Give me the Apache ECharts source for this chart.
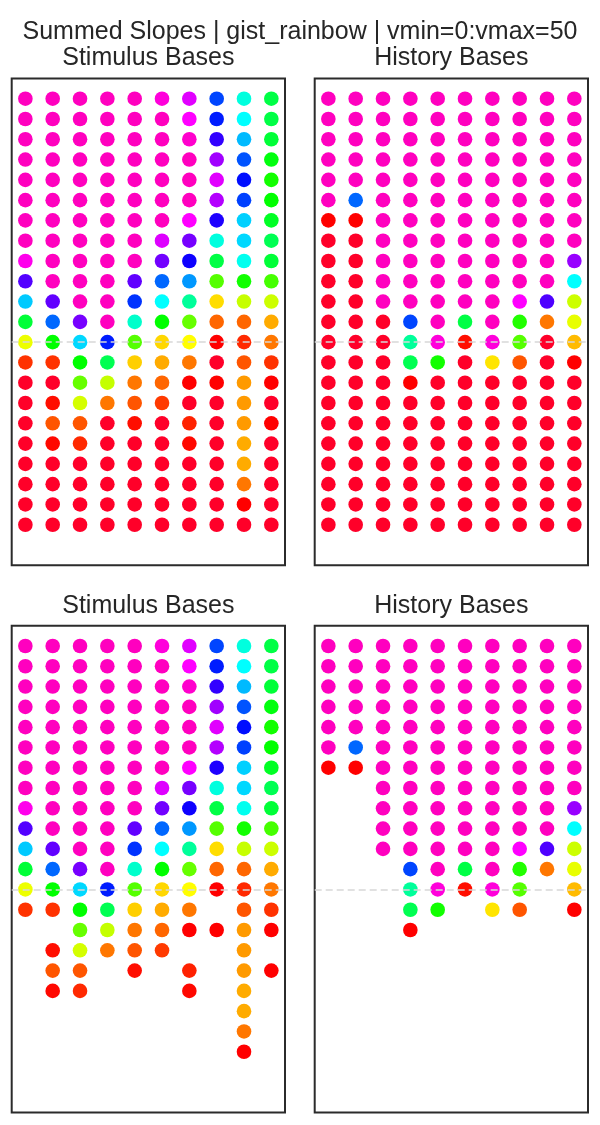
<!DOCTYPE html>
<html>
<head>
<meta charset="utf-8">
<script src="https://cdn.jsdelivr.net/npm/echarts@6/dist/echarts.min.js"></script>
<style>
  html, body { margin: 0; padding: 0; background: #ffffff; }
  #chart { width: 600px; height: 1125px; }
</style>
</head>
<body>
<div id="chart"></div>
<script>
// ---- data (summed slopes, one row per base, one column per unit) ----
const mainTitle = 'Summed Slopes | gist_rainbow | vmin=0:vmax=50';
const panelTitles = ['Stimulus Bases', 'History Bases', 'Stimulus Bases', 'History Bases'];
const vmin = 0;
const vmax = 50;
const thresholdRow = 12;       // dashed reference row
const minShown = 1;            // bottom panels hide slopes below this

const stimulusValues = [
  [50, 50, 50, 50, 50, 49, 46.6, 36, 28.1, 22.5],
  [50, 50, 50, 50, 50, 50, 47.7, 37.5, 29.3, 22.5],
  [50, 50, 50, 50, 50, 50, 49.5, 40.3, 31.8, 22],
  [50, 50, 50, 50, 50, 50, 50, 44.3, 35.5, 20.5],
  [50, 50, 50, 50, 50, 50, 50, 46.6, 38, 19.4],
  [50, 50, 50, 50, 50, 50, 50, 45, 36.2, 20],
  [50, 50, 50, 50, 50, 50, 47.7, 39.6, 31, 21.3],
  [50, 50, 50, 50, 50, 46.5, 42.8, 28.1, 30.7, 23],
  [48.4, 50, 50, 50, 50, 42.6, 39, 22.5, 28.7, 22],
  [41.5, 50, 50, 50, 42, 34.8, 33, 16.9, 19.4, 17.5],
  [31.2, 42, 50, 50, 36.7, 29.3, 25.6, 9.5, 12.8, 12.6],
  [22, 34.8, 42.8, 50, 27.4, 20, 16.3, 5.2, 5.2, 7.7],
  [11.4, 20, 30.7, 37.5, 16.9, 9.3, 10.7, 1.5, 3, 5.8],
  [3.3, 3.3, 20, 23, 9, 7.7, 5.8, 0, 4.6, 3.3],
  [0, 0, 16.3, 12.9, 5.8, 5.2, 1.5, 1.5, 7.1, 1.5],
  [0, 2, 12.3, 5.8, 4.6, 3.6, 0, 0, 7.1, 0],
  [0, 4.6, 4.6, 0, 2, 0, 2.7, 0, 7.1, 1.5],
  [0, 1.8, 3, 0, 0, 0, 1.8, 0, 7.7, 0],
  [0, 0, 0, 0, 0, 0, 0, 0, 7.7, 0],
  [0, 0, 0, 0, 0, 0, 0, 0, 5.8, 0],
  [0, 0, 0, 0, 0, 0, 0, 0, 1.5, 0],
  [0, 0, 0, 0, 0, 0, 0, 0, 0, 0]
];

const historyValues = [
  [50, 50, 50, 50, 50, 50, 50, 50, 50, 50],
  [50, 50, 50, 50, 50, 50, 50, 50, 50, 50],
  [50, 50, 50, 50, 50, 50, 50, 50, 50, 50],
  [50, 50, 50, 50, 50, 50, 50, 50, 50, 50],
  [50, 50, 50, 50, 50, 50, 50, 50, 50, 50],
  [50, 34.8, 50, 50, 50, 50, 50, 50, 50, 50],
  [1.5, 1.5, 50, 50, 50, 50, 50, 50, 50, 50],
  [0, 0, 50, 50, 50, 50, 50, 50, 50, 50],
  [0, 0, 50, 50, 50, 50, 50, 50, 50, 44],
  [0, 0, 50, 50, 50, 50, 50, 50, 50, 29.3],
  [0, 0, 50, 50, 50, 50, 50, 47.7, 41.3, 12.6],
  [0, 0, 0, 36, 50, 22.5, 50, 18.8, 5.8, 11.6],
  [0, 0, 0, 25.6, 49, 2, 49, 16.9, 0, 8.3],
  [0, 0, 0, 23, 19.4, 0, 9.8, 4.6, 0, 1.5],
  [0, 0, 0, 1.5, 0, 0, 0, 0, 0, 0],
  [0, 0, 0, 0, 0, 0, 0, 0, 0, 0],
  [0, 0, 0, 0, 0, 0, 0, 0, 0, 0],
  [0, 0, 0, 0, 0, 0, 0, 0, 0, 0],
  [0, 0, 0, 0, 0, 0, 0, 0, 0, 0],
  [0, 0, 0, 0, 0, 0, 0, 0, 0, 0],
  [0, 0, 0, 0, 0, 0, 0, 0, 0, 0],
  [0, 0, 0, 0, 0, 0, 0, 0, 0, 0]
];

// ---- gist_rainbow colormap ----
const cmapStops = [
  [0.000, [1.00, 0.00, 0.16]],
  [0.030, [1.00, 0.00, 0.00]],
  [0.215, [1.00, 1.00, 0.00]],
  [0.400, [0.00, 1.00, 0.00]],
  [0.586, [0.00, 1.00, 1.00]],
  [0.770, [0.00, 0.00, 1.00]],
  [0.954, [1.00, 0.00, 1.00]],
  [1.000, [1.00, 0.00, 0.75]]
];
function cmap(v) {
  let t = (v - vmin) / (vmax - vmin);
  t = Math.max(0, Math.min(1, t));
  for (let i = 1; i < cmapStops.length; i++) {
    const a = cmapStops[i - 1], b = cmapStops[i];
    if (t <= b[0]) {
      const f = (t - a[0]) / (b[0] - a[0]);
      const c = a[1].map((x, k) => Math.round(255 * (x + (b[1][k] - x) * f)));
      return 'rgb(' + c.join(',') + ')';
    }
  }
  return 'rgb(255,0,191)';
}

function toPoints(values, filter) {
  const pts = [];
  values.forEach((row, r) => {
    row.forEach((v, c) => {
      if (!filter || v >= minShown) pts.push([c, r, v]);
    });
  });
  return pts;
}

const panels = [
  { values: stimulusValues, filter: false },
  { values: historyValues, filter: false },
  { values: stimulusValues, filter: true },
  { values: historyValues, filter: true }
];

// ---- layout ----
const gridW = 273.3, gridH = 486.9;
const gridLefts = [11.7, 314.7, 11.7, 314.7];
const gridTops = [78.4, 78.4, 625.7, 625.7];
const textColor = '#262626';
const fontFamily = "'Liberation Sans', Arial, sans-serif";
const fontSize = 25;

const grids = [], xAxes = [], yAxes = [], series = [], graphics = [];
panels.forEach((p, i) => {
  grids.push({
    left: gridLefts[i], top: gridTops[i], width: gridW, height: gridH,
    show: true, borderColor: '#2b2b2b', borderWidth: 2, backgroundColor: '#ffffff'
  });
  xAxes.push({
    gridIndex: i, type: 'value', min: -0.5, max: 9.5,
    axisLine: { show: false }, axisTick: { show: false }, axisLabel: { show: false }, splitLine: { show: false }
  });
  yAxes.push({
    gridIndex: i, type: 'value', min: -1, max: 23, inverse: true,
    axisLine: { show: false }, axisTick: { show: false }, axisLabel: { show: false }, splitLine: { show: false }
  });
  series.push({
    type: 'scatter', xAxisIndex: i, yAxisIndex: i,
    symbol: 'circle', symbolSize: 14.6,
    data: toPoints(p.values, p.filter),
    itemStyle: { color: (params) => cmap(params.value[2]), opacity: 1 },
    silent: true, z: 2
  });
  series.push({
    type: 'line', xAxisIndex: i, yAxisIndex: i, data: [], z: 5, silent: true,
    markLine: {
      silent: true, symbol: ['none', 'none'], label: { show: false },
      lineStyle: { type: [7, 4], color: 'rgba(215,215,215,0.75)', width: 2 },
      data: [{ yAxis: thresholdRow }]
    }
  });
  graphics.push({
    type: 'text', x: gridLefts[i] + gridW / 2, y: gridTops[i] - 20,
    style: {
      text: panelTitles[i], fill: textColor, font: fontSize + 'px ' + fontFamily,
      textAlign: 'center', textVerticalAlign: 'middle'
    }
  });
});
graphics.push({
  type: 'text', x: 300, y: 32.5,
  style: {
    text: mainTitle, fill: textColor, font: fontSize + 'px ' + fontFamily,
    textAlign: 'center', textVerticalAlign: 'middle'
  }
});

const chart = echarts.init(document.getElementById('chart'), null, { renderer: 'canvas' });
chart.setOption({
  backgroundColor: '#ffffff',
  animation: false,
  grid: grids, xAxis: xAxes, yAxis: yAxes, series: series, graphic: graphics
});
</script>
</body>
</html>
